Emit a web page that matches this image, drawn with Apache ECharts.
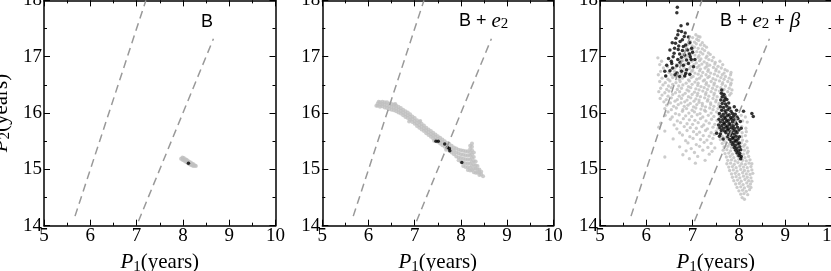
<!DOCTYPE html>
<html><head><meta charset="utf-8">
<script src="https://cdn.jsdelivr.net/npm/echarts@6/dist/echarts.min.js"></script>
<style>html,body{margin:0;padding:0;background:#fff;overflow:hidden}#c{width:831px;height:271px}</style>
</head><body><div id="c"></div>
<script>
// ---- axis ranges / tick setup ----
const xRange = [5, 10];
const yRange = [14, 18];
const tickStep = 1;

// ---- resonance guide lines (P2 = 2.5 P1 and P2 = 2 P1) ----
const res52 = [[5.67, 14.17], [7.2, 18.0]];
const res21 = [[7.04, 14.08], [8.66, 17.32]];

// ---- panel titles ----
const panelTitles = ['B', 'B + {e|e}{s|2}', 'B + {e|e}{s|2} + {b|β}'];

// ---- panel 1: B ----
const grayB = [[7.96,15.19],[7.99,15.21],[7.99,15.17],[8.02,15.20],[8.02,15.16],[8.05,15.18],[8.05,15.14],[8.08,15.17],[8.08,15.13],[8.11,15.15],[8.11,15.11],[8.14,15.13],[8.14,15.09],[8.17,15.12],[8.17,15.08],[8.20,15.10],[8.20,15.07],[8.23,15.09],[8.23,15.06],[8.26,15.07],[8.28,15.06]];
const blackB = [[8.12,15.11]];

// ---- panel 2: B + e2 ----
const grayBe2 = [[6.17,16.13],[6.22,16.20],
[6.20,16.17],[6.20,16.13],[6.25,16.19],[6.25,16.15],[6.25,16.11],[6.30,16.20],[6.30,16.16],[6.30,16.12],
[6.35,16.19],[6.35,16.15],[6.35,16.10],[6.40,16.19],[6.40,16.14],[6.40,16.09],[6.45,16.17],[6.45,16.12],[6.45,16.07],
[6.50,16.16],[6.50,16.11],[6.50,16.06],[6.55,16.15],[6.55,16.10],[6.55,16.05],[6.58,16.16],[6.60,16.13],[6.60,16.08],[6.60,16.03],
[6.65,16.11],[6.65,16.06],[6.65,16.01],[6.70,16.09],[6.70,16.04],[6.70,15.99],[6.75,16.06],[6.75,16.01],[6.75,15.96],
[6.80,16.03],[6.80,15.98],[6.80,15.93],[6.85,16.01],[6.85,15.96],[6.85,15.91],[6.88,15.85],[6.90,15.98],[6.90,15.93],[6.90,15.88],
[6.95,15.94],[6.95,15.89],[6.95,15.84],[7.00,15.91],[7.00,15.86],[7.00,15.81],[7.05,15.87],[7.05,15.82],[7.05,15.77],
[7.10,15.84],[7.10,15.79],[7.10,15.74],[7.12,15.86],[7.15,15.81],[7.15,15.76],[7.15,15.71],[7.20,15.78],[7.20,15.73],[7.20,15.68],
[7.25,15.74],[7.25,15.69],[7.25,15.64],[7.30,15.71],[7.30,15.66],[7.30,15.61],[7.35,15.68],[7.35,15.63],[7.35,15.58],
[7.40,15.65],[7.40,15.60],[7.40,15.55],[7.42,15.51],[7.45,15.62],[7.45,15.57],[7.45,15.52],[7.50,15.59],[7.50,15.54],[7.50,15.49],
[7.55,15.56],[7.55,15.51],[7.55,15.46],[7.60,15.53],[7.60,15.48],[7.60,15.43],[7.65,15.50],[7.65,15.45],[7.65,15.40],
[7.68,15.35],[7.70,15.47],[7.70,15.42],[7.70,15.37],[7.75,15.45],[7.75,15.39],[7.75,15.33],[7.80,15.42],[7.80,15.36],[7.80,15.30],
[7.85,15.39],[7.85,15.33],[7.85,15.27],[7.90,15.37],[7.90,15.30],[7.90,15.23],[7.95,15.35],[7.95,15.28],[7.95,15.21],[7.95,15.16],
[8.00,15.34],[8.00,15.27],[8.00,15.20],[8.00,15.14],[8.05,15.33],[8.05,15.26],[8.05,15.19],[8.05,15.12],[8.05,15.06],
[8.10,15.32],[8.10,15.25],[8.10,15.18],[8.10,15.11],[8.10,15.04],[8.15,15.32],[8.15,15.25],[8.15,15.18],[8.15,15.11],[8.15,15.04],[8.15,14.99],
[8.20,15.42],[8.20,15.36],[8.20,15.30],[8.20,15.24],[8.20,15.17],[8.20,15.10],[8.20,15.03],[8.20,14.98],
[8.24,15.46],[8.24,15.40],[8.24,15.34],[8.24,15.27],[8.24,15.20],[8.24,15.13],[8.24,15.06],[8.24,14.99],
[8.28,15.30],[8.28,15.22],[8.28,15.15],[8.28,15.08],[8.28,15.01],[8.28,14.95],[8.32,15.14],[8.32,15.07],[8.32,15.01],[8.32,14.94],
[8.36,15.06],[8.36,15.00],[8.36,14.94],[8.40,15.00],[8.40,14.95],[8.40,14.90],[8.44,14.96],[8.44,14.91],[8.48,14.88]];
const blackBe2 = [[7.46,15.50],[7.51,15.50],[7.65,15.45],[7.71,15.39],[7.75,15.37],[7.76,15.33],[8.02,15.12]];

// ---- panel 3: B + e2 + beta ----
const grayBe2b = [
[7.07,17.39],[7.12,17.36],
[7.00,17.34],[7.09,17.31],[7.16,17.35],
[6.95,17.27],[7.04,17.26],[7.13,17.29],[7.21,17.25],
[6.90,17.22],[6.99,17.19],[7.08,17.23],[7.17,17.21],[7.25,17.20],
[6.87,17.16],[6.96,17.13],[7.04,17.17],[7.12,17.15],[7.21,17.14],[7.30,17.17],
[6.83,17.10],[6.92,17.07],[7.00,17.11],[7.09,17.09],[7.17,17.08],[7.26,17.11],[7.34,17.07],
[6.80,17.04],[6.88,17.01],[6.97,17.05],[7.05,17.03],[7.14,17.02],[7.22,17.05],[7.31,17.01],[7.38,17.04],
[6.25,16.98],[6.74,16.95],[6.83,16.99],[6.95,16.97],[7.01,16.94],[7.12,16.99],[7.18,16.96],[7.29,16.98],[7.35,16.95],[7.45,16.99],
[6.33,16.92],[6.71,16.88],[6.79,16.93],[6.91,16.90],[6.98,16.92],[7.08,16.89],[7.15,16.93],[7.25,16.91],[7.31,16.88],[7.42,16.93],[7.49,16.90],[7.59,16.92],
[6.29,16.86],[6.46,16.82],[6.65,16.86],[6.78,16.84],[6.84,16.87],[6.96,16.83],[7.03,16.86],[7.14,16.84],[7.20,16.87],[7.31,16.83],[7.37,16.85],[7.48,16.87],[7.55,16.83],[7.65,16.86],
[6.37,16.80],[6.54,16.78],[6.62,16.80],[6.74,16.77],[6.81,16.81],[6.93,16.79],[7.00,16.76],[7.10,16.81],[7.17,16.78],[7.27,16.80],[7.34,16.77],[7.45,16.81],[7.51,16.78],[7.62,16.80],[7.70,16.77],
[6.31,16.74],[6.49,16.72],[6.61,16.74],[6.68,16.71],[6.80,16.75],[6.87,16.72],[6.98,16.74],[7.05,16.71],[7.15,16.75],[7.22,16.72],[7.33,16.74],[7.39,16.71],[7.50,16.75],[7.57,16.73],[7.68,16.71],[7.75,16.75],[7.83,16.72],
[6.26,16.68],[6.42,16.66],[6.54,16.68],[6.64,16.65],[6.76,16.69],[6.83,16.66],[6.94,16.68],[7.01,16.65],[7.12,16.69],[7.19,16.66],[7.29,16.68],[7.36,16.65],[7.47,16.69],[7.54,16.66],[7.64,16.68],[7.71,16.65],[7.82,16.68],
[6.34,16.62],[6.47,16.60],[6.57,16.63],[6.71,16.60],[6.78,16.62],[6.91,16.59],[6.97,16.63],[7.09,16.60],[7.15,16.62],[7.26,16.59],[7.33,16.63],[7.44,16.61],[7.50,16.59],[7.61,16.63],[7.68,16.60],[7.79,16.62],[7.85,16.59],
[6.29,16.56],[6.41,16.54],[6.51,16.57],[6.64,16.54],[6.73,16.56],[6.86,16.53],[6.93,16.57],[7.05,16.55],[7.12,16.53],[7.23,16.57],[7.30,16.54],[7.40,16.56],[7.47,16.53],[7.58,16.57],[7.65,16.54],[7.76,16.56],[7.83,16.53],
[6.36,16.50],[6.48,16.48],[6.57,16.51],[6.70,16.48],[6.79,16.50],[6.91,16.47],[6.99,16.51],[7.11,16.49],[7.18,16.47],[7.29,16.51],[7.35,16.48],[7.46,16.50],[7.53,16.47],[7.64,16.51],[7.71,16.48],[7.82,16.50],
[6.31,16.44],[6.44,16.42],[6.54,16.45],[6.67,16.42],[6.76,16.44],[6.88,16.41],[6.96,16.45],[7.07,16.43],[7.14,16.41],[7.25,16.45],[7.32,16.42],[7.43,16.44],[7.50,16.41],[7.61,16.45],[7.68,16.42],[7.79,16.44],[7.85,16.41],
[6.27,16.38],[6.40,16.36],[6.49,16.39],[6.63,16.36],[6.72,16.38],[6.84,16.35],[6.92,16.39],[7.04,16.37],[7.11,16.35],[7.22,16.39],[7.29,16.36],[7.40,16.38],[7.47,16.35],[7.58,16.39],[7.65,16.36],[7.76,16.38],[7.83,16.35],
[6.34,16.32],[6.47,16.30],[6.57,16.33],[6.71,16.30],[6.79,16.32],[6.91,16.29],[6.99,16.33],[7.10,16.31],[7.17,16.29],[7.28,16.33],[7.35,16.30],[7.46,16.32],[7.53,16.29],[7.64,16.33],[7.71,16.30],[7.80,16.32],
[6.30,16.26],[6.43,16.24],[6.54,16.27],[6.67,16.24],[6.76,16.26],[6.88,16.23],[6.96,16.27],[7.07,16.25],[7.14,16.23],[7.26,16.27],[7.33,16.24],[7.44,16.26],[7.51,16.23],[7.62,16.27],[7.70,16.24],
[6.38,16.20],[6.52,16.18],[6.62,16.21],[6.75,16.18],[6.83,16.20],[6.95,16.17],[7.03,16.21],[7.14,16.19],[7.21,16.17],[7.32,16.21],[7.39,16.18],[7.50,16.20],[7.57,16.17],[7.68,16.21],
[6.44,16.14],[6.59,16.12],[6.69,16.15],[6.82,16.12],[6.90,16.14],[7.02,16.11],[7.09,16.15],[7.21,16.13],[7.28,16.11],[7.39,16.15],[7.46,16.12],[7.57,16.14],[7.64,16.11],
[6.40,16.08],[6.54,16.06],[6.65,16.09],[6.79,16.06],[6.87,16.08],[6.99,16.05],[7.07,16.09],[7.18,16.07],[7.26,16.05],[7.37,16.09],[7.44,16.06],[7.55,16.08],[7.62,16.05],
[6.47,16.02],[6.63,15.99],[6.78,16.03],[6.92,16.00],[7.04,16.02],[7.16,15.99],[7.28,16.03],[7.40,16.00],[7.52,16.02],
[6.41,15.96],[6.56,15.93],[6.71,15.97],[6.85,15.95],[6.98,15.94],[7.10,15.97],[7.22,15.93],[7.34,15.96],[7.46,15.94],[7.57,15.97],
[6.52,15.89],[6.67,15.86],[6.80,15.90],[6.93,15.88],[7.05,15.87],[7.17,15.90],[7.29,15.86],[7.41,15.89],[7.53,15.87],
[6.31,15.82],[6.60,15.79],[6.74,15.83],[6.88,15.81],[7.00,15.80],[7.12,15.83],[7.24,15.79],[7.36,15.82],[7.48,15.80],
[6.27,15.75],[6.66,15.72],[6.82,15.76],[6.95,15.74],[7.08,15.73],[7.20,15.76],[7.32,15.72],[7.44,15.75],[7.55,15.73],
[6.40,15.68],[6.72,15.65],[6.88,15.69],[7.02,15.67],[7.15,15.66],[7.28,15.69],[7.40,15.65],[7.51,15.68],
[6.78,15.61],[6.94,15.58],[7.09,15.62],[7.23,15.60],[7.36,15.59],[7.47,15.62],
[6.58,15.54],[6.85,15.51],[7.01,15.55],[7.17,15.53],[7.31,15.52],[7.44,15.55],
[6.90,15.47],[7.08,15.44],[7.25,15.48],[7.40,15.46],
[6.72,15.40],[6.97,15.37],[7.15,15.41],[7.33,15.39],[7.48,15.38],
[6.86,15.33],[7.04,15.30],[7.22,15.34],[7.42,15.32],
[6.79,15.26],[7.11,15.23],[7.36,15.27],
[6.40,15.22],[6.93,15.19],[7.27,15.16],[7.06,15.11],
[8.05,15.96],[8.14,15.93],[8.08,15.86],[8.18,15.84],[8.06,15.76],[8.15,15.73],
[7.62,15.66],[8.07,15.65],[8.16,15.67],
[7.64,15.59],[7.72,15.57],[8.06,15.58],[8.14,15.60],
[7.60,15.53],[7.68,15.51],[7.76,15.54],[8.08,15.52],[8.17,15.50],
[7.64,15.46],[7.72,15.47],[7.80,15.45],[8.05,15.47],[8.13,15.44],
[7.68,15.40],[7.76,15.41],[7.84,15.39],[8.10,15.41],[8.18,15.38],
[7.66,15.34],[7.74,15.35],[7.82,15.33],[7.90,15.36],[8.12,15.34],[8.20,15.32],
[7.70,15.28],[7.78,15.29],[7.86,15.27],[7.94,15.30],[8.02,15.28],[8.10,15.27],[8.18,15.29],
[7.73,15.22],[7.81,15.23],[7.89,15.21],[7.97,15.24],[8.05,15.22],[8.13,15.21],[8.21,15.23],
[7.76,15.16],[7.84,15.17],[7.92,15.15],[8.00,15.18],[8.08,15.16],[8.16,15.15],[8.24,15.17],
[7.74,15.10],[7.82,15.11],[7.90,15.09],[7.98,15.12],[8.06,15.10],[8.14,15.09],[8.22,15.11],[8.28,15.10],
[7.78,15.04],[7.86,15.05],[7.94,15.03],[8.02,15.06],[8.10,15.04],[8.18,15.03],[8.26,15.05],
[7.80,14.98],[7.88,14.99],[7.96,14.97],[8.04,15.00],[8.12,14.98],[8.20,14.97],[8.28,14.99],
[7.84,14.92],[7.92,14.93],[8.00,14.91],[8.08,14.94],[8.16,14.92],[8.24,14.91],[8.30,14.93],
[7.86,14.86],[7.94,14.87],[8.02,14.85],[8.10,14.88],[8.18,14.86],[8.26,14.85],
[7.89,14.80],[7.97,14.81],[8.05,14.79],[8.13,14.82],[8.21,14.80],[8.28,14.79],
[7.93,14.74],[8.01,14.75],[8.09,14.73],[8.17,14.76],[8.25,14.74],
[7.96,14.68],[8.04,14.69],[8.12,14.67],[8.20,14.70],[8.26,14.68],
[8.00,14.62],[8.08,14.63],[8.16,14.61],[8.23,14.64],
[8.04,14.56],[8.11,14.57],[8.19,14.55],[8.07,14.50],[8.12,14.47]];
const blackBe2b = [
[6.67,17.88],[6.66,17.78],[6.89,17.58],[6.75,17.55],
[6.69,17.46],[6.76,17.45],[6.84,17.42],[6.68,17.39],[6.82,17.36],[6.91,17.35],[6.64,17.33],[6.78,17.30],
[6.56,17.25],[6.63,17.24],[6.73,17.27],[6.85,17.21],[6.94,17.25],[6.70,17.19],[6.80,17.18],
[6.51,17.12],[6.61,17.15],[6.69,17.13],[6.78,17.11],[6.89,17.12],[6.98,17.15],[7.00,17.08],
[6.60,17.06],[6.72,17.05],[6.83,17.03],[6.93,17.05],
[6.48,16.97],[6.58,17.00],[6.68,16.95],[6.76,16.99],[6.87,16.94],[6.97,16.95],[7.05,16.95],[6.95,17.00],
[6.54,16.92],[6.73,16.90],
[6.44,16.85],[6.55,16.88],[6.66,16.84],[6.80,16.85],[6.91,16.88],[7.02,16.82],[6.57,16.80],
[6.40,16.74],[6.51,16.75],[6.66,16.71],[6.76,16.74],[6.87,16.77],[6.94,16.69],[6.85,16.70],
[6.42,16.66],[6.62,16.68],[6.72,16.65],[6.83,16.66],
[7.63,16.41],[7.62,16.35],[7.68,16.33],[7.64,16.29],[7.70,16.27],
[7.61,16.23],[7.68,16.22],[7.74,16.24],[7.64,16.17],[7.71,16.16],[7.78,16.18],
[7.60,16.11],[7.67,16.10],[7.74,16.12],[7.80,16.09],[7.90,16.11],
[7.63,16.05],[7.70,16.04],[7.76,16.06],[7.83,16.03],[7.95,16.05],[8.10,16.03],
[7.58,15.99],[7.66,15.98],[7.72,16.00],[7.79,15.97],[7.86,15.99],[7.92,15.98],[8.28,15.99],
[7.62,15.94],[7.69,15.93],[7.75,15.95],[7.82,15.92],[7.88,15.94],[7.96,15.93],[8.31,15.94],
[7.57,15.89],[7.65,15.88],[7.71,15.90],[7.77,15.87],[7.84,15.89],[7.90,15.88],[7.98,15.90],
[7.60,15.84],[7.67,15.83],[7.73,15.85],[7.79,15.82],[7.86,15.84],[7.93,15.83],[8.03,15.85],
[7.56,15.79],[7.63,15.78],[7.69,15.80],[7.75,15.77],[7.81,15.79],[7.88,15.78],[7.95,15.80],
[7.59,15.74],[7.66,15.73],[7.72,15.75],[7.78,15.72],[7.84,15.74],[7.90,15.73],[7.97,15.75],[8.05,15.73],
[7.62,15.69],[7.69,15.68],[7.75,15.70],[7.81,15.67],[7.87,15.69],[7.93,15.68],[8.00,15.70],
[7.52,15.64],[7.60,15.63],[7.72,15.65],[7.78,15.62],[7.84,15.64],[7.90,15.63],[7.96,15.65],
[7.58,15.59],[7.76,15.58],[7.82,15.60],[7.88,15.57],[7.94,15.59],[8.01,15.58],
[7.66,15.54],[7.80,15.53],[7.86,15.55],[7.92,15.52],[7.98,15.54],
[7.83,15.49],[7.89,15.48],[7.95,15.50],[8.01,15.47],[7.86,15.44],[7.92,15.43],[7.98,15.45],
[7.90,15.39],[7.96,15.38],[8.02,15.40],[7.93,15.34],[7.99,15.33],[8.04,15.35],
[7.96,15.29],[8.02,15.28],[8.00,15.24],[8.05,15.23],[8.04,15.19]];

const panels = [
  {gray: grayB, black: blackB, graySize: 4},
  {gray: grayBe2, black: blackBe2, graySize: 4},
  {gray: grayBe2b, black: blackBe2b, graySize: 3.3}
];

// ---- layout ----
const boxes = [{left: 44, width: 231.5}, {left: 322.3, width: 231}, {left: 600, width: 231.5}];
const labelPos = [{x: 201, y: 22.3}, {x: 459, y: 21.2}, {x: 720, y: 21}];
const TOP = 0.4, HEIGHT = 225.3;
const serif = '"Liberation Serif", "Times New Roman", serif';
const sans = '"Liberation Sans", Arial, sans-serif';

const nameRich = {
  p: {fontFamily: serif, fontStyle: 'italic', fontSize: 21, lineHeight: 24, color: '#000'},
  s: {fontFamily: serif, fontSize: 15, lineHeight: 12, verticalAlign: 'bottom', color: '#000'}
};
const nameStyle = {fontFamily: serif, fontSize: 21, lineHeight: 24, color: '#000', rich: nameRich};

function baseAxis() {
  return {
    type: 'value',
    axisLine: {show: true, onZero: false, lineStyle: {color: '#000', width: 1.5}},
    axisTick: {show: true, inside: true, length: 6, lineStyle: {color: '#000', width: 1}},
    minorTick: {show: true, splitNumber: 2, length: 3, lineStyle: {color: '#000', width: 1}},
    splitLine: {show: false}, minorSplitLine: {show: false}
  };
}

const grid = [], xAxis = [], yAxis = [], series = [], texts = [];
boxes.forEach((b, i) => {
  grid.push({left: b.left, top: TOP, width: b.width, height: HEIGHT, containLabel: false, outerBoundsMode: 'none'});
  xAxis.push(Object.assign(baseAxis(), {
    gridIndex: i, position: 'bottom', min: xRange[0], max: xRange[1], interval: tickStep,
    axisLabel: {show: true, margin: 1, color: '#000', fontFamily: serif, fontSize: 19},
    name: '{p|P}{s|1}(years)', nameLocation: 'middle', nameGap: 20, nameTextStyle: nameStyle
  }));
  xAxis.push(Object.assign(baseAxis(), {
    gridIndex: i, position: 'top', min: xRange[0], max: xRange[1], interval: tickStep,
    axisLabel: {show: false}
  }));
  const yl = Object.assign(baseAxis(), {
    gridIndex: i, position: 'left', min: yRange[0], max: yRange[1], interval: tickStep,
    axisLabel: {show: true, margin: 2, color: '#000', fontFamily: serif, fontSize: 19}
  });
  if (i === 0) {
    Object.assign(yl, {name: '{p|P}{s|2}(years)', nameLocation: 'middle', nameRotate: 90, nameGap: 31, nameTextStyle: nameStyle});
  }
  yAxis.push(yl);
  yAxis.push(Object.assign(baseAxis(), {
    gridIndex: i, position: 'right', min: yRange[0], max: yRange[1], interval: tickStep,
    axisLabel: {show: false}
  }));
  const p = panels[i];
  series.push({type: 'scatter', xAxisIndex: 2 * i, yAxisIndex: 2 * i, data: p.gray, symbol: 'circle',
    symbolSize: p.graySize, itemStyle: {color: '#bfbfbf'}, silent: true});
  series.push({type: 'scatter', xAxisIndex: 2 * i, yAxisIndex: 2 * i, data: p.black, symbol: 'circle',
    symbolSize: 3.5, itemStyle: {color: '#000'}, silent: true});
  [res52, res21].forEach(line => {
    series.push({type: 'line', xAxisIndex: 2 * i, yAxisIndex: 2 * i, data: line, symbol: 'none',
      lineStyle: {color: '#999', width: 1.5, type: [8, 5]}, silent: true});
  });
  texts.push({type: 'text', x: labelPos[i].x, y: labelPos[i].y, silent: true,
    style: {text: panelTitles[i], fontFamily: sans, fontSize: 18, fill: '#000', align: 'left', verticalAlign: 'middle',
      rich: {
        e: {fontFamily: serif, fontStyle: 'italic', fontSize: 21, fill: '#000'},
        s: {fontFamily: serif, fontSize: 15, fill: '#000', verticalAlign: 'bottom', lineHeight: 12},
        b: {fontFamily: serif, fontStyle: 'italic', fontSize: 21, fill: '#000'}
      }}});
});

const chart = echarts.init(document.getElementById('c'));
chart.setOption({
  animation: false,
  backgroundColor: '#fff',
  grid, xAxis, yAxis, series,
  graphic: {elements: texts}
});
</script>
</body></html>
